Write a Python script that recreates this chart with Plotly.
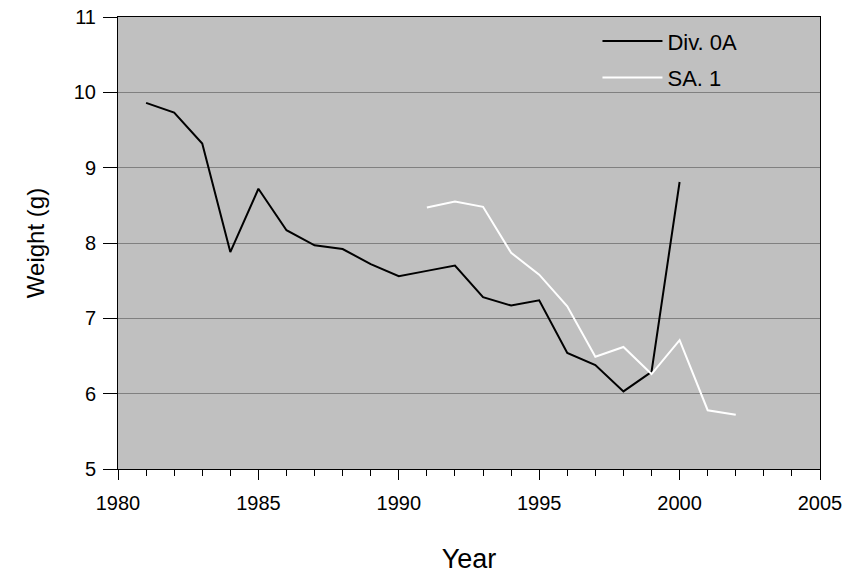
import plotly.graph_objects as go

years_div0a = [1981, 1982, 1983, 1984, 1985, 1986, 1987, 1988, 1989, 1990,
               1991, 1992, 1993, 1994, 1995, 1996, 1997, 1998, 1999, 2000]
weight_div0a = [9.86, 9.73, 9.32, 7.88, 8.72, 8.17, 7.97, 7.92, 7.72, 7.56,
                7.63, 7.70, 7.28, 7.17, 7.24, 6.54, 6.38, 6.03, 6.29, 8.81]

years_sa1 = [1991, 1992, 1993, 1994, 1995, 1996, 1997, 1998, 1999, 2000, 2001, 2002]
weight_sa1 = [8.47, 8.55, 8.48, 7.87, 7.58, 7.16, 6.49, 6.62, 6.26, 6.71, 5.78, 5.72]

x_ticks = [1980, 1985, 1990, 1995, 2000, 2005]
y_ticks = [5, 6, 7, 8, 9, 10, 11]

FONT = "Liberation Sans, Arial, sans-serif"

fig = go.Figure()
fig.add_trace(go.Scatter(x=years_div0a, y=weight_div0a, mode="lines", name="Div. 0A",
                         line=dict(color="black", width=2), legendgroup="a"))
fig.add_trace(go.Scatter(x=years_sa1, y=weight_sa1, mode="lines", name="SA. 1",
                         line=dict(color="white", width=2), legendgroup="b"))

fig.update_layout(
    width=849, height=580,
    margin=dict(l=118, r=29, t=17, b=111),
    paper_bgcolor="white",
    plot_bgcolor="#c0c0c0",
    font=dict(family=FONT, size=20, color="black"),
    showlegend=True,
    legend=dict(x=0.683, y=0.993, xanchor="left", yanchor="top",
                bgcolor="rgba(0,0,0,0)", font=dict(size=22, family=FONT),
                itemwidth=60, tracegroupgap=5),
    xaxis=dict(
        range=[1980, 2005], tickvals=x_ticks, ticktext=[str(v) for v in x_ticks],
        ticks="outside", ticklen=10, tickwidth=1, tickcolor="black",
        showline=True, linecolor="black", linewidth=1, mirror=True,
        showgrid=False, zeroline=False, ticklabeloverflow="allow",
        ticklabelstandoff=6, automargin=False,
        minor=dict(dtick=1, tick0=1980, ticks="outside", ticklen=6, tickcolor="black", showgrid=False),
        tickfont=dict(size=20, family=FONT),
        title=dict(text="Year", font=dict(size=27, family=FONT), standoff=36),
    ),
    yaxis=dict(
        range=[5, 11], tickvals=y_ticks, ticktext=[str(v) for v in y_ticks],
        ticks="outside", ticklen=14, tickwidth=1, tickcolor="black",
        showline=True, linecolor="black", linewidth=1, mirror=True,
        showgrid=True, gridcolor="#808080", gridwidth=1, zeroline=False,
        ticklabeloverflow="allow", ticklabelstandoff=3, automargin=False,
        tickfont=dict(size=20, family=FONT),
        title=dict(text="Weight (g)", font=dict(size=24, family=FONT), standoff=22),
    ),
)

fig.write_html("out.html", config={"displayModeBar": False},
               post_script="document.body.style.margin='0';")
